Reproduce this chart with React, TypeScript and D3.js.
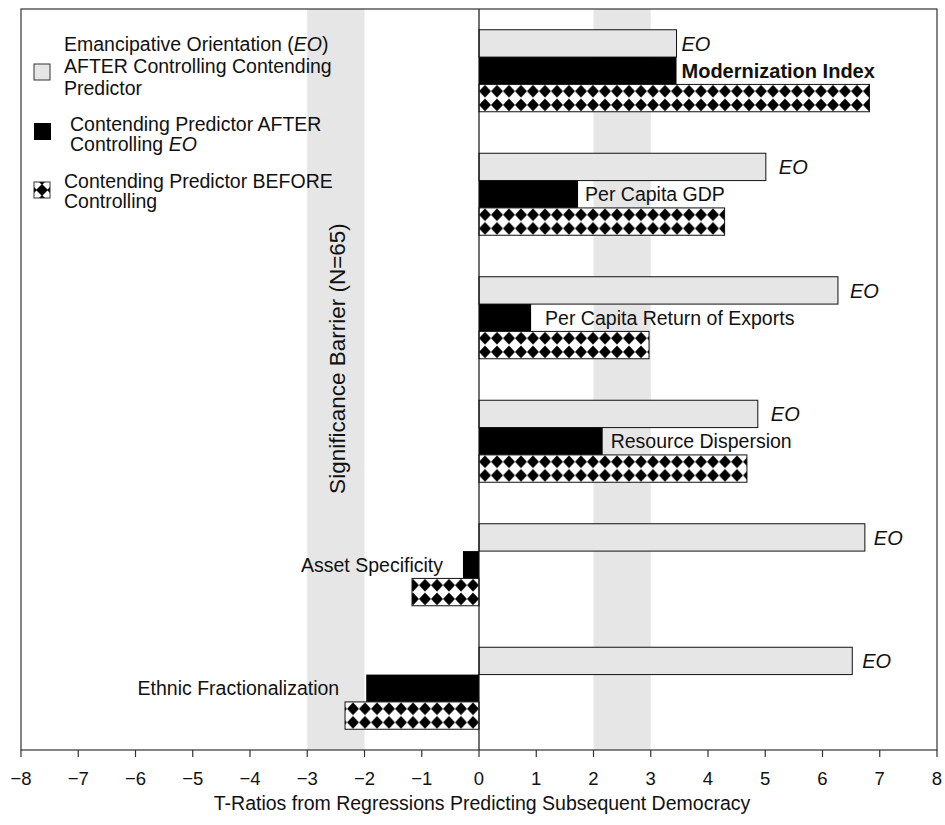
import React from "react";
import * as d3 from "d3";

const groups = [
  "Modernization Index",
  "Per Capita GDP",
  "Per Capita Return of Exports",
  "Resource Dispersion",
  "Asset Specificity",
  "Ethnic Fractionalization",
];
const eoAfter = [3.45, 5.01, 6.27, 4.87, 6.74, 6.52];
const predAfter = [3.45, 1.73, 0.91, 2.16, -0.28, -1.97];
const predBefore = [6.82, 4.29, 2.97, 4.68, -1.17, -2.34];
const series = ["eo", "after", "before"];
const xTicks = d3.range(-8, 9, 1);
const barrierBands = [[-3, -2], [2, 3]];

// label styling offsets (px)
const eoLabelGap = [5, 13, 12, 13, 9, 10];
const predLabelGap = [5, 7, 14, 8, 20, 27];

const W = 945;
const H = 825;
const L = 21, R = 937, T = 9, B = 750;
const FONT = "'Liberation Sans', Arial, Helvetica, sans-serif";

export default function App() {
  const x = d3.scaleLinear().domain([-8, 8]).range([L, R]);
  const y = d3.scaleBand<string>().domain(groups).range([T, B]).paddingInner(0.336).paddingOuter(0.168);
  const inner = d3.scaleBand<string>().domain(series).range([0, y.bandwidth()]);
  const bh = inner.bandwidth();
  const x0 = x(0);
  const fmt = (v: number) => (v < 0 ? "\u2212" + Math.abs(v) : String(v));

  const cellW = 12;
  const cellH = bh / 2;

  return (
    <svg width={W} height={H} style={{ display: "block", position: "absolute", left: 0, top: 0, background: "#fff" }} fontFamily={FONT}>
      <defs>
        {groups.map((g, i) => {
          const yy = (y(g) as number) + (inner("before") as number);
          return (
            <pattern key={g} id={`diam${i}`} patternUnits="userSpaceOnUse" x={x0} y={yy} width={cellW} height={cellH}>
              <rect width={cellW} height={cellH} fill="#fff" />
              <polygon
                points={`${cellW / 2},0.6 ${cellW},${cellH / 2} ${cellW / 2},${cellH - 0.6} 0,${cellH / 2}`}
                fill="#000"
              />
            </pattern>
          );
        })}
        <pattern id="diamLegend" patternUnits="userSpaceOnUse" x={34} y={182} width={16} height={16}>
          <rect width={16} height={16} fill="#fff" />
          <polygon points="8,2 14,8 8,14 2,8" fill="#000" />
          <polygon points="0,5 3,8 0,11" fill="#000" />
          <polygon points="16,5 13,8 16,11" fill="#000" />
          <polygon points="5,0 11,0 8,3" fill="#000" />
          <polygon points="5,16 11,16 8,13" fill="#000" />
        </pattern>
      </defs>

      {/* significance bands */}
      {barrierBands.map((b, i) => (
        <rect key={i} x={x(b[0])} y={T} width={x(b[1]) - x(b[0])} height={B - T} fill="#e6e6e6" />
      ))}

      {/* Significance text */}
      <text
        transform={`translate(${x(-2.5) + 1},${(T + B) / 2 - 21}) rotate(-90)`}
        textAnchor="middle"
        dy="0.35em"
        fontSize={22.5}
        fill="#111"
      >
        Significance Barrier (N=65)
      </text>

      {/* bars */}
      {groups.map((g, i) => {
        const gy = y(g) as number;
        const yEO = gy + (inner("eo") as number);
        const yA = gy + (inner("after") as number);
        const yB = gy + (inner("before") as number);
        const eoEnd = x(eoAfter[i]);
        const aVal = predAfter[i];
        const bVal = predBefore[i];
        const labelRight = x(aVal);
        return (
          <g key={g}>
            <rect x={Math.min(x0, eoEnd)} y={yEO} width={Math.abs(eoEnd - x0)} height={bh} fill="#e6e6e6" stroke="#111" strokeWidth={1} />
            <rect x={Math.min(x0, x(aVal))} y={yA} width={Math.abs(x(aVal) - x0)} height={bh} fill="#000" />
            <rect x={Math.min(x0, x(bVal))} y={yB} width={Math.abs(x(bVal) - x0)} height={bh} fill={`url(#diam${i})`} stroke="#111" strokeWidth={1} />
            <text x={eoEnd + eoLabelGap[i]} y={yEO + bh / 2} dy="0.36em" fontSize={20} fontStyle="italic" fill="#111">
              EO
            </text>
            {aVal >= 0 ? (
              <text
                x={labelRight + predLabelGap[i]}
                y={yA + bh / 2}
                dy="0.36em"
                fontSize={i === 0 ? 20 : 19.5}
                fontWeight={i === 0 ? "bold" : "normal"}
                fill="#111"
              >
                {g}
              </text>
            ) : (
              <text x={x(aVal) - predLabelGap[i]} y={yA + bh / 2} dy="0.36em" fontSize={19.5} textAnchor="end" fill="#111">
                {g}
              </text>
            )}
          </g>
        );
      })}

      {/* zero line */}
      <line x1={x0} x2={x0} y1={T} y2={B} stroke="#111" strokeWidth={1.2} />

      {/* frame */}
      <rect x={L} y={T} width={R - L} height={B - T} fill="none" stroke="#333" strokeWidth={1.2} />

      {/* axis */}
      {xTicks.map((t) => (
        <g key={t}>
          <line x1={x(t)} x2={x(t)} y1={B} y2={B + 7} stroke="#333" strokeWidth={1.2} />
          <text x={x(t)} y={B + 35} textAnchor="middle" fontSize={18.5} fill="#111">
            {fmt(t)}
          </text>
        </g>
      ))}
      <text x={(L + R) / 2 + 3} y={B + 60} textAnchor="middle" fontSize={19.5} fill="#111">
        T-Ratios from Regressions Predicting Subsequent Democracy
      </text>

      {/* legend */}
      <rect x={34} y={64} width={16} height={16} fill="#e6e6e6" stroke="#333" strokeWidth={1} />
      <text fontSize={19.5} fill="#111">
        <tspan x={64} y={51}>
          Emancipative Orientation (<tspan fontStyle="italic">EO</tspan>)
        </tspan>
        <tspan x={64} y={73}>AFTER Controlling Contending</tspan>
        <tspan x={64} y={95}>Predictor</tspan>
      </text>
      <rect x={34} y={123} width={17} height={17} fill="#000" />
      <text fontSize={19.5} fill="#111">
        <tspan x={70} y={131}>Contending Predictor AFTER</tspan>
        <tspan x={70} y={151}>
          Controlling <tspan fontStyle="italic">EO</tspan>
        </tspan>
      </text>
      <rect x={34} y={182} width={16} height={16} fill="url(#diamLegend)" stroke="#333" strokeWidth={1} />
      <text fontSize={19.5} fill="#111">
        <tspan x={64} y={188}>Contending Predictor BEFORE</tspan>
        <tspan x={64} y={208}>Controlling</tspan>
      </text>
    </svg>
  );
}
